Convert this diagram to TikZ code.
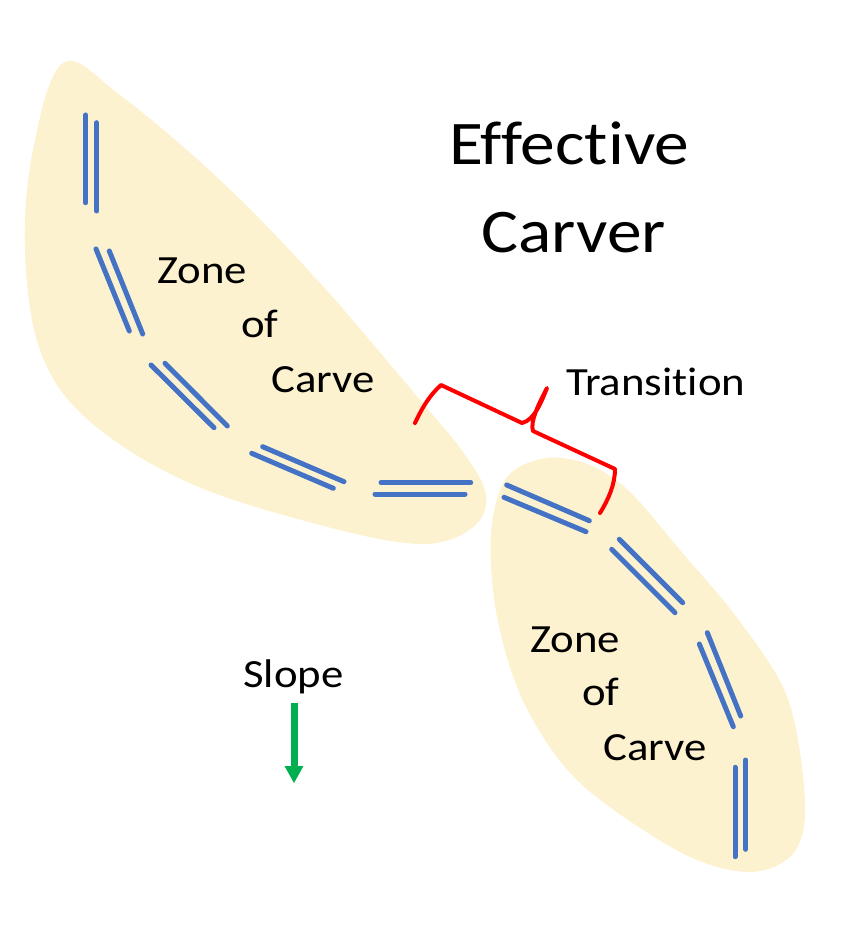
\documentclass[tikz,border=0pt]{standalone}
\usepackage{fontspec}
\setmainfont[FakeStretch=1.12,Ligatures=NoCommon]{Carlito}
\definecolor{zonefill}{HTML}{FDF2D0}
\definecolor{skiblue}{HTML}{4472C4}
\definecolor{bracketred}{HTML}{FF0000}
\definecolor{slopegreen}{HTML}{00B050}
\tikzset{
  ski/.style={draw=skiblue, line width=5pt, line cap=round},
  zone/.style={fill=zonefill, draw=none},
  lbl/.style={anchor=base west, inner sep=0pt, font=\fontsize{40}{48}\selectfont},
  title/.style={anchor=base west, inner sep=0pt, font=\fontsize{62}{74}\selectfont},
  brace/.style={draw=bracketred, line width=4pt, line cap=round, line join=round},
}
\begin{document}
\begin{tikzpicture}[x=1pt,y=-1pt]
\useasboundingbox (0,0) rectangle (862,925);
% zones
\fill[zone] plot[smooth cycle, tension=0.6] coordinates {(63,63) (120,95) (220,180) (320,283) (420,400) (463,452) (486,495) (472,528) (420,544) (320,525) (187,482) (87,419) (40,350) (25,250) (33,150)};
\fill[zone] plot[smooth cycle, tension=0.55] coordinates {(547,458) (590,465) (630,492) (680,550) (735,615) (781,683) (798,740) (805,817) (790,857) (747,872) (680,852) (580,783) (525,705) (497,617) (491,533) (507,477)};
% skis left
\draw[ski] (85.7,115) -- (85.7,202.7);
\draw[ski] (96.7,122.7) -- (96.7,211);
\draw[ski] (96,249) -- (129.3,331);
\draw[ski] (109.3,251) -- (142.7,334);
\draw[ski] (151,365) -- (214,427.7);
\draw[ski] (165,363.3) -- (227.3,426);
\draw[ski] (251.7,453.3) -- (333.3,488.3);
\draw[ski] (262.7,446.7) -- (344,481.7);
\draw[ski] (381,482.7) -- (470.7,482.7);
\draw[ski] (375,494) -- (465,494);
% skis right
\draw[ski] (506.7,485) -- (589.3,520.7);
\draw[ski] (504,497.3) -- (586,531.7);
\draw[ski] (619.3,539.3) -- (682.7,602.7);
\draw[ski] (611.7,549.3) -- (675,612.7);
\draw[ski] (707.3,632.7) -- (740.7,716);
\draw[ski] (699.3,644) -- (733.3,726.7);
\draw[ski] (745.7,760) -- (745.7,849.3);
\draw[ski] (735,767.3) -- (735,856.7);
% bracket
\draw[brace] (415,423) .. controls (423,406) and (430,395) .. (441,385) -- (522,423) .. controls (535,420) and (542,400) .. (547,388) .. controls (538,405) and (530,422) .. (533,431) -- (615,469) .. controls (615,485) and (608,500) .. (600,513);
% texts
\node[title] (t1) at (449,165) {Effective};
\node[title] (t2) at (481,252) {Carver};
\node[lbl] (z1a) at (157,283) {Zone};
\node[lbl] (z1b) at (241,337) {of};
\node[lbl] (z1c) at (271,392) {Carve};
\node[lbl] (z2a) at (530,652) {Zone};
\node[lbl] (z2b) at (582,705) {of};
\node[lbl] (z2c) at (603,760) {Carve};
\node[lbl] (tr) at (566,395) {Transition};
\node[lbl] (sl) at (243,687) {Slope};
% slope arrow
\coordinate (a0) at (294,703);
\coordinate (a1) at (294,767);
\coordinate (a2) at (294,783);
\draw[slopegreen, line width=7pt] (a0) -- (a1);
\fill[slopegreen] (284.5,766) -- (303.5,766) -- (a2) -- cycle;
\end{tikzpicture}
\end{document}
